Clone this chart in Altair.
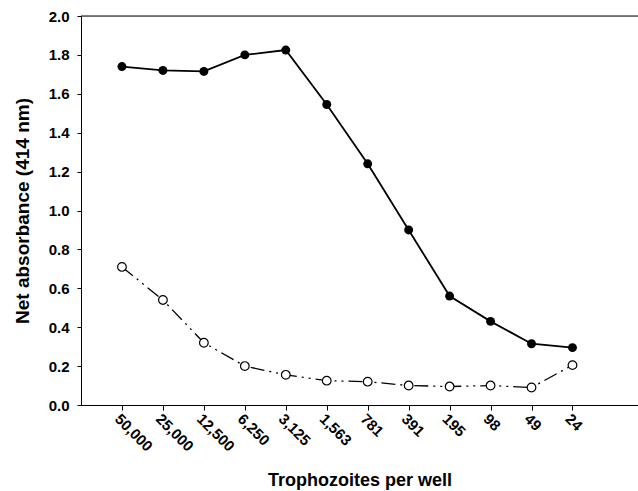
import altair as alt
import pandas as pd

labels = ["50,000", "25,000", "12,500", "6,250", "3,125", "1,563", "781", "391", "195", "98", "49", "24"]
filled = [1.74, 1.72, 1.715, 1.80, 1.825, 1.545, 1.24, 0.90, 0.56, 0.43, 0.315, 0.295]
open_ = [0.71, 0.54, 0.32, 0.20, 0.155, 0.125, 0.12, 0.10, 0.095, 0.10, 0.09, 0.205]

idx = list(range(1, len(labels) + 1))
df = pd.DataFrame({"i": idx, "label": labels, "filled": filled, "open": open_})

label_expr = "[" + ",".join(f"'{l}'" for l in labels) + "][datum.value-1]"

font = "Liberation Sans"

xaxis = alt.Axis(values=idx, labelExpr=label_expr, labelAngle=45, labelAlign="left",
                 labelBaseline="top", labelFontWeight="bold", labelFontSize=15,
                 labelFont=font, labelColor="black", labelPadding=1, tickSize=5,
                 labelOverlap=False, labelBound=False,
                 tickColor="black", domainColor="black", grid=False,
                 title="Trophozoites per well", titleFont=font, titleFontSize=18,
                 titleFontWeight="bold", titleColor="black", titleBaseline="bottom",
                 titleY=84)
yaxis = alt.Axis(values=[0.0, 0.2, 0.4, 0.6, 0.8, 1.0, 1.2, 1.4, 1.6, 1.8, 2.0], format=".1f",
                 labelFontWeight="bold",
                 labelFontSize=15, labelFont=font, labelColor="black", tickSize=4, tickColor="black",
                 labelOverlap=False, labelPadding=8, labelBound=False,
                 domainColor="black", grid=False, title="Net absorbance (414 nm)", titleFont=font,
                 titleFontSize=19, titleFontWeight="bold", titleColor="black", titlePadding=16)
x_scale = alt.Scale(domain=[0, 13.6], nice=False, zero=False)
y_scale = alt.Scale(domain=[0, 2], nice=False)

def X():
    return alt.X("i:Q", scale=x_scale, axis=xaxis)

def Y(f):
    return alt.Y(f"{f}:Q", scale=y_scale, axis=yaxis)

base = alt.Chart(df)

open_line = base.mark_line(color="black", strokeWidth=1.3, strokeDash=[14, 5, 2, 5, 2, 5]).encode(
    x=X(), y=Y("open"))
open_pts = base.mark_point(shape="circle", filled=True, fill="white", stroke="black",
                           strokeWidth=1.2, size=75, opacity=1).encode(x=X(), y=Y("open"))
filled_line = base.mark_line(color="black", strokeWidth=1.8).encode(x=X(), y=Y("filled"))
filled_pts = base.mark_point(shape="circle", filled=True, color="black", size=80, opacity=1).encode(
    x=X(), y=Y("filled"))
top = alt.Chart(pd.DataFrame({"v": [2.0]})).mark_rule(color="black", strokeWidth=1).encode(y=Y("v"))

chart = alt.layer(open_line, open_pts, filled_line, filled_pts, top).properties(
    width=557, height=389,
    autosize=alt.AutoSizeParams(type="none"),
    padding={"left": 81, "top": 16, "right": 0, "bottom": 86},
).configure_view(stroke=None).configure(background="white")

chart.save("out.html", embed_options={"renderer": "svg", "actions": False})
